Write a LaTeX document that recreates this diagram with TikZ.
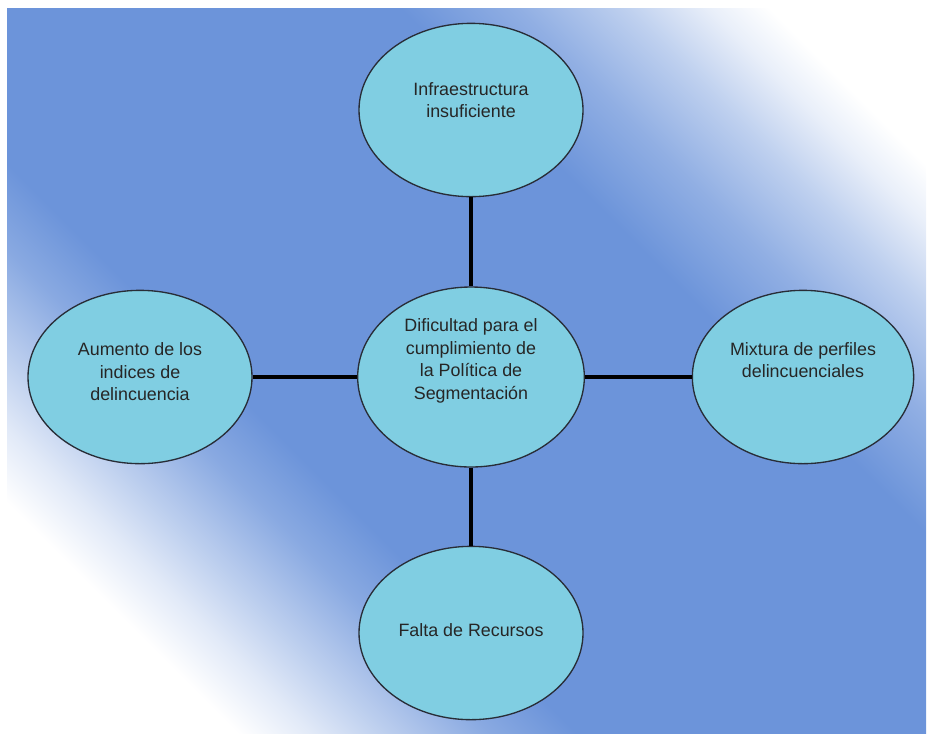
\documentclass[tikz,border=0pt]{standalone}
\usepackage{fontspec}
\setmainfont{Liberation Sans}
\usetikzlibrary{shapes.geometric}

\definecolor{fondo}{RGB}{108,148,218}
\definecolor{celeste}{RGB}{128,206,226}
\definecolor{borde}{RGB}{40,45,55}

\pgfdeclarehorizontalshading{fondodiag}{100bp}{color(0bp)=(white); color(24.4bp)=(white);
	color(27.6bp)=(fondo!20!white); color(30.8bp)=(fondo!45!white); color(35.3bp)=(fondo!80!white);
	color(39.1bp)=(fondo); color(62.8bp)=(fondo); color(67.9bp)=(fondo!75!white);
	color(72.4bp)=(fondo!45!white); color(76.2bp)=(fondo!15!white); color(78.8bp)=(white);
	color(100bp)=(white)}

\begin{document}
\begin{tikzpicture}[x=0.75pt, y=-0.75pt,
	idea/.style={shape=ellipse, draw=borde, line width=1pt, fill=celeste, inner sep=0pt,
		minimum width=168pt, minimum height=130pt},
	texto/.style={text=black!85, align=center, inner sep=0pt, font=\fontsize{13.4}{16.9}\selectfont},
	link/.style={-, line width=2.6pt, black}]
	\useasboundingbox (0,0) rectangle (930,736);
	\shade[shading=fondodiag, shading angle=45] (7,8) rectangle (926,733);

	% elipses
	\node[idea, minimum width=170pt, minimum height=135pt] (dif) at (471,377) {};
	\node[idea]                                            (infra) at (471,110) {};
	\node[idea]                                            (aumento) at (140,377) {};
	\node[idea, minimum width=166pt]                       (mixtura) at (803,377) {};
	\node[idea]                                            (falta) at (471,633) {};

	% textos
	\node[texto] (difT)     at (471,361) {Dificultad para el\\cumplimiento de\\la Política de\\Segmentación};
	\node[texto] (infraT)   at (471,100) {Infraestructura\\insuficiente};
	\node[texto] (aumentoT) at (140,372) {Aumento de los\\indices de\\delincuencia};
	\node[texto] (mixturaT) at (803,360) {Mixtura de perfiles\\delincuenciales};
	\node[texto] (faltaT)   at (471,630) {Falta de Recursos};

	\path [link] (infra)   edge (dif);
	\path [link] (aumento) edge (dif);
	\path [link] (dif)     edge (mixtura);
	\path [link] (dif)     edge (falta);
\end{tikzpicture}
\end{document}
